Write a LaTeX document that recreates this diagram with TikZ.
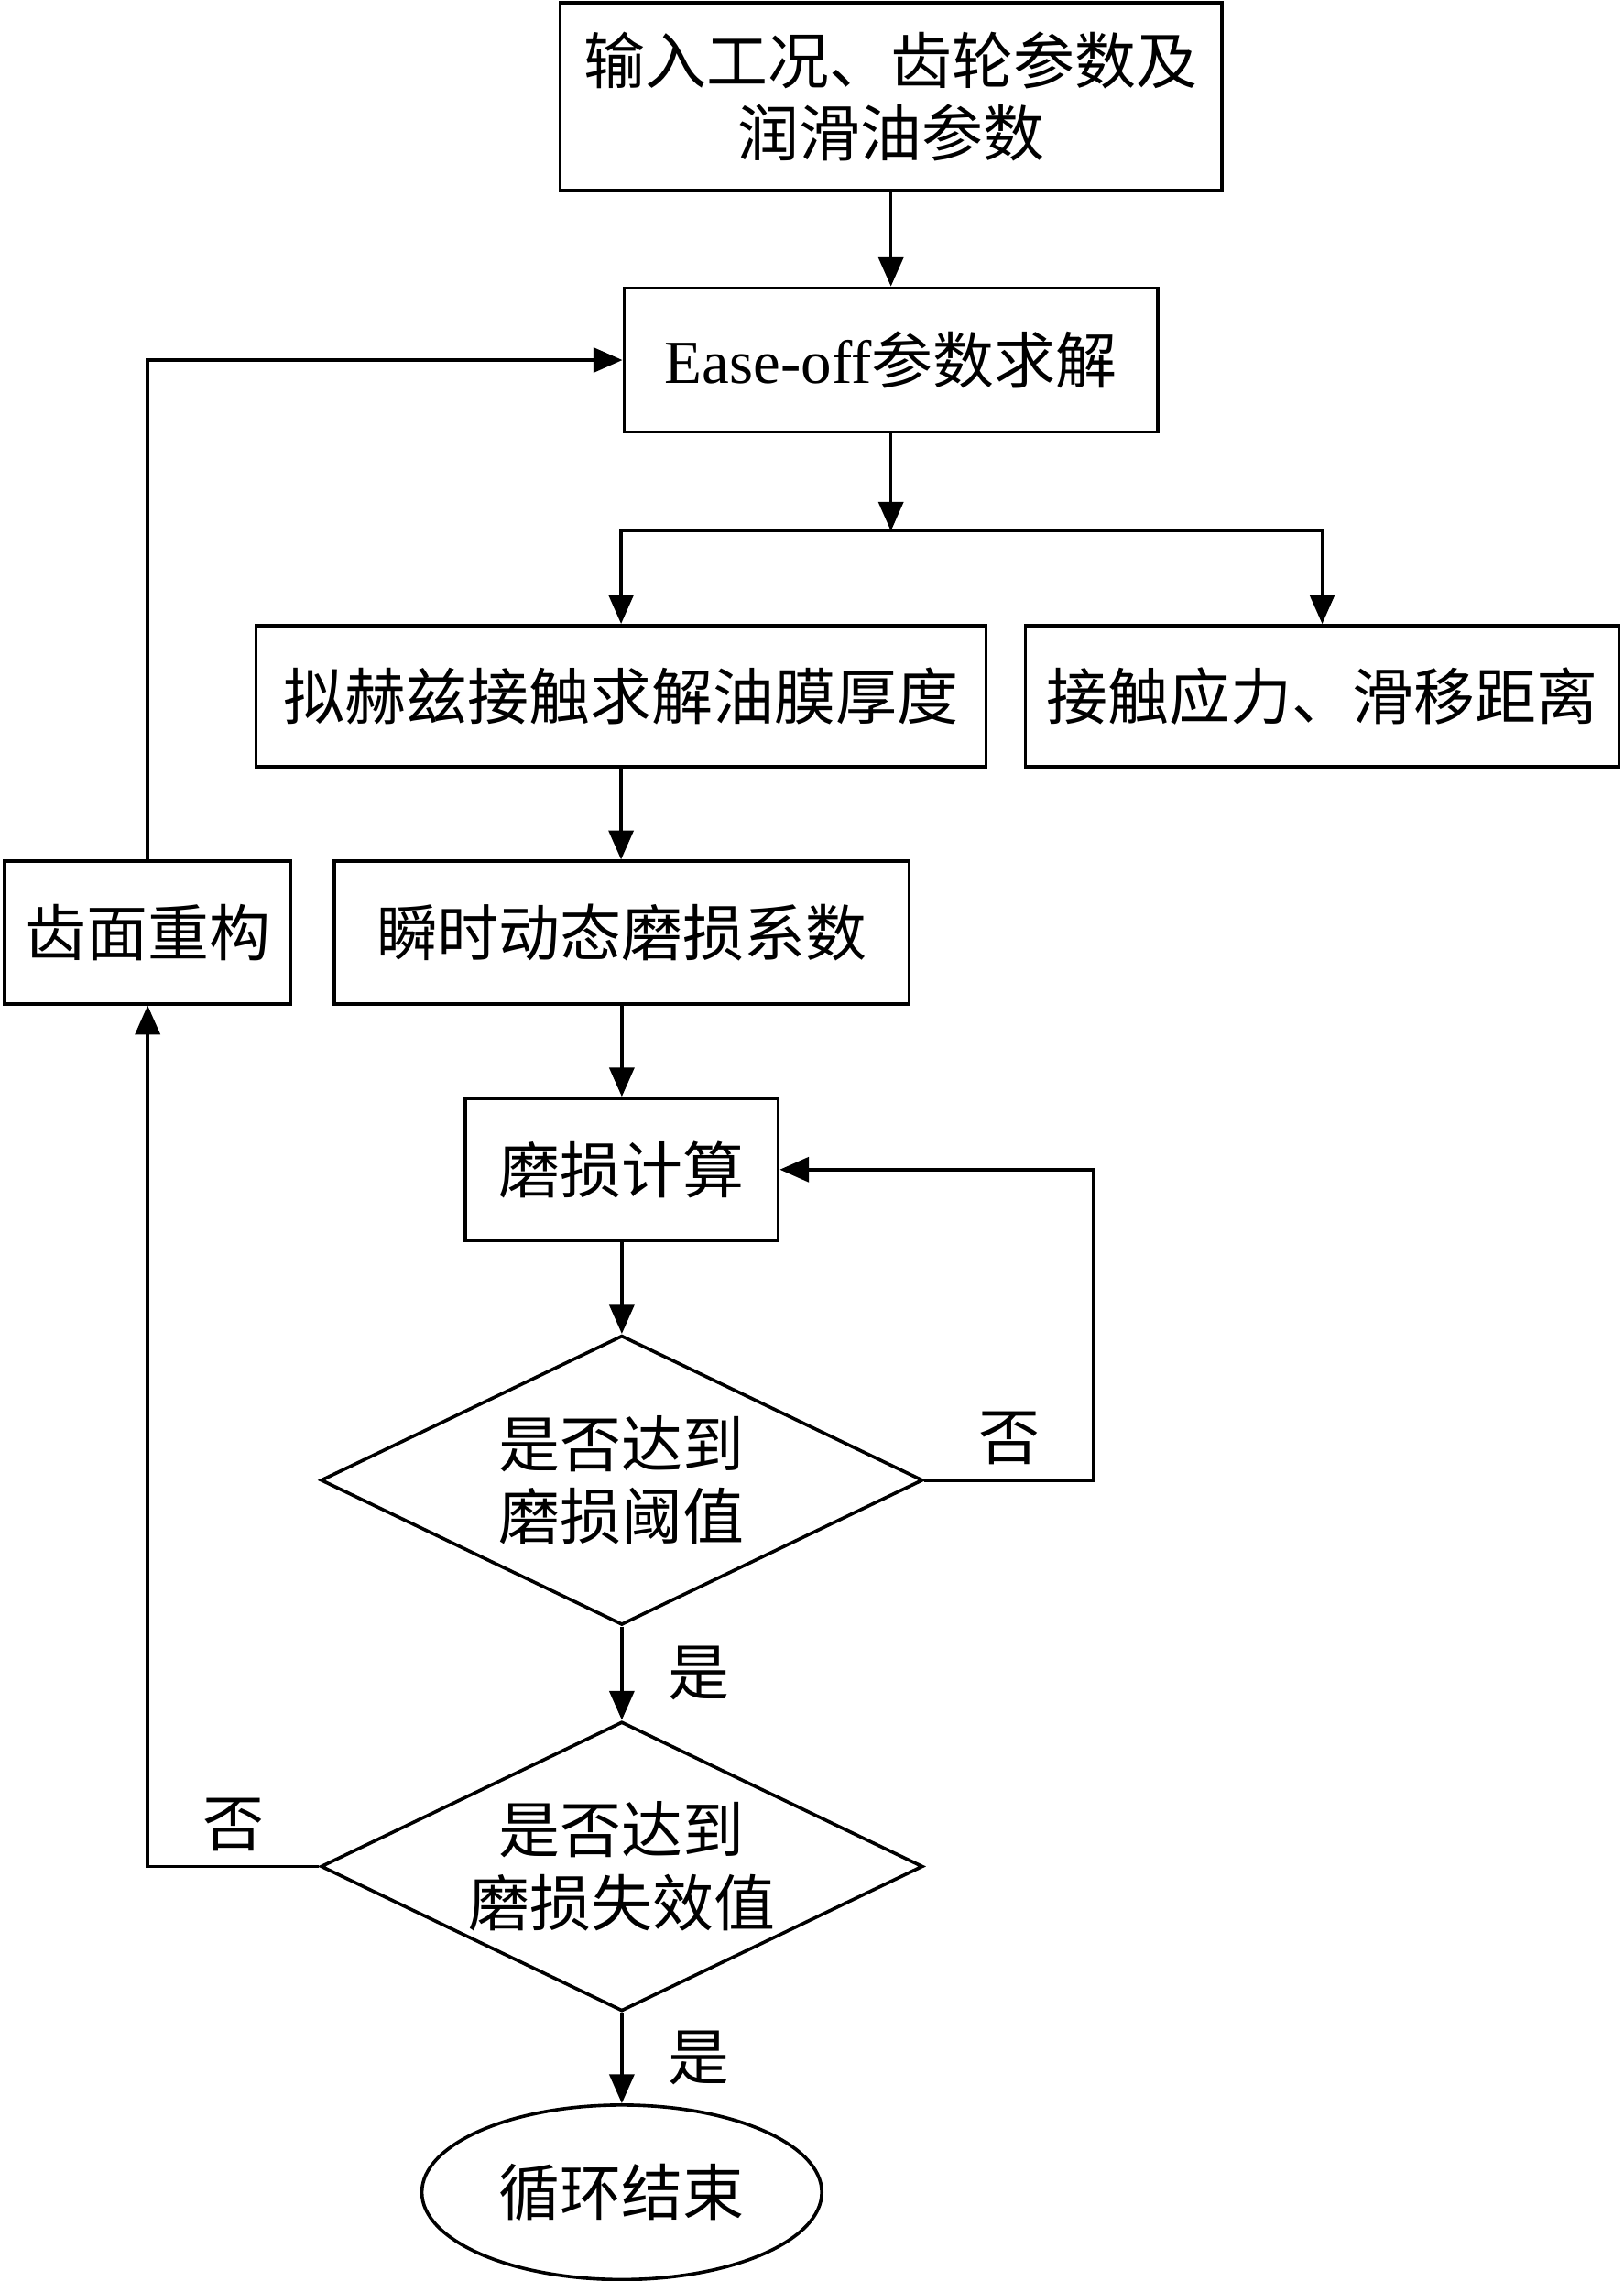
\documentclass[tikz,border=0pt]{standalone}
\usepackage{fontspec}
\setmainfont{Noto Sans CJK SC}
\newfontfamily\latinfont{Liberation Serif}
\usepackage{tikz}
\usetikzlibrary{
  calc, shapes.geometric, arrows.meta
}

\begin{document}
\begin{tikzpicture} [x=0.02cm, y=-0.02cm, line width=1.3pt,
                    box/.style={draw, rectangle, inner sep=0pt, align=center,
                        font=\fontsize{24}{28.5}\selectfont},
                    cond/.style={draw, diamond, inner sep=0pt, aspect=2.08, align=center,
                        minimum width=8.28cm, minimum height=3.98cm,
                        font=\fontsize{24}{28.5}\selectfont},
                    arr/.style={-{Triangle[length=0.4cm, width=0.34cm]}},
                    tag/.style={font=\fontsize{24}{28.5}\selectfont}]
                    \useasboundingbox (0, 0) rectangle (1116, 1568);
                    \coordinate (c1) at (612.5, 66.5);
                    \coordinate (c2) at (612.5, 247.5);
                    \coordinate (split) at (612.5, 365);
                    \coordinate (c3) at (427, 478.5);
                    \coordinate (c4) at (909, 478.5);
                    \coordinate (c5) at (427.5, 641);
                    \coordinate (c6) at (101.5, 641);
                    \coordinate (c7) at (427.5, 804);
                    \coordinate (c8) at (427.5, 1017.5);
                    \coordinate (c9) at (427.5, 1283);
                    \coordinate (c10) at (427.5, 1507);
                    \coordinate (back) at (752, 1017.5);
                    \node[box, minimum width=9.1cm, minimum height=2.58cm] (input) at (c1) {输入工况、齿轮参数及\\润滑油参数};
                    \node[box, minimum width=7.34cm, minimum height=1.98cm] (ease) at (c2) {{\latinfont Ease-off}参数求解};
                    \node[box, minimum width=10.04cm, minimum height=1.94cm] (hertz) at (c3) {拟赫兹接触求解油膜厚度};
                    \node[box, minimum width=8.16cm, minimum height=1.94cm] (stress) at (c4) {接触应力、滑移距离};
                    \node[box, minimum width=7.9cm, minimum height=1.96cm] (coef) at (c5) {瞬时动态磨损系数};
                    \node[box, minimum width=3.94cm, minimum height=1.96cm] (rebuild) at (c6) {齿面重构};
                    \node[box, minimum width=4.3cm, minimum height=1.96cm] (wear) at (c7) {磨损计算};
                    \node[cond] (limit) at (c8) {是否达到\\磨损阈值};
                    \node[cond] (fail) at (c9) {是否达到\\磨损失效值};
                    \node[box, ellipse, minimum width=5.5cm, minimum height=2.4cm] (stop) at (c10) {循环结束};
                    \draw[arr] (input) -- (ease);
                    \draw[arr] (ease) -- (split);
                    \draw[arr] (split) -| (hertz.north);
                    \draw[arr] (split) -| (stress.north);
                    \draw[arr] (hertz.south) -- (hertz.south |- coef.north);
                    \draw[arr] (coef) -- (wear);
                    \draw[arr] (wear) -- (limit);
                    \draw[arr] (limit) -- (fail) node[tag, midway, right=14pt] {是};
                    \draw[arr] (fail) -- (stop) node[tag, midway, right=14pt] {是};
                    \draw[arr] (limit.east) -- (back) node[tag, midway, above=2pt] {否} |- (wear.east);
                    \draw[arr] (fail.west) -- (fail.west -| rebuild) node[tag, pos=0.5, above=2pt] {否} -- (rebuild.south);
                    \draw[arr] (rebuild.north) |- (ease.west);
                \end{tikzpicture}
\end{document}
